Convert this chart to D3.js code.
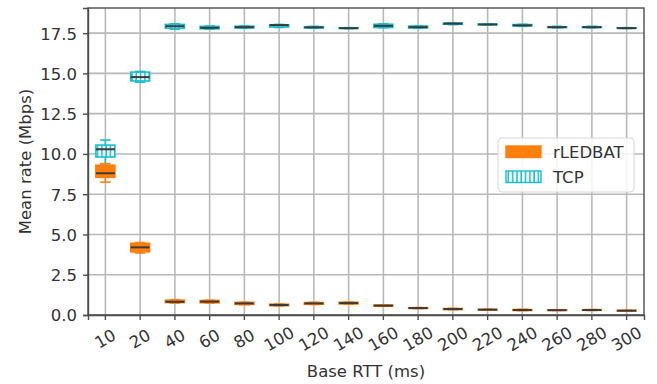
<!DOCTYPE html>
<html>
<head>
<meta charset="utf-8">
<script src="https://cdn.jsdelivr.net/npm/d3@7"></script>
<style>
  html, body { margin: 0; padding: 0; background: #fff; }
  svg text { font-family: "DejaVu Sans", sans-serif; fill: #333; }
</style>
</head>
<body>
<svg id="chart" width="657" height="384"></svg>
<script>
// Base RTT settings (ms)
const rttLabels = ["10", "20", "40", "60", "80", "100", "120", "140", "160", "180", "200", "220", "240", "260", "280", "300"];

// Box statistics per RTT: [lower whisker, Q1, median, Q3, upper whisker] in Mbps
const ledbatBoxes = [
  [8.25, 8.55, 8.80, 9.30, 9.40],
  [3.85, 3.92, 4.20, 4.45, 4.50],
  [0.74, 0.77, 0.82, 0.92, 0.95],
  [0.74, 0.76, 0.83, 0.90, 0.92],
  [0.64, 0.66, 0.72, 0.78, 0.80],
  [0.56, 0.58, 0.62, 0.67, 0.69],
  [0.65, 0.67, 0.72, 0.77, 0.79],
  [0.67, 0.69, 0.74, 0.79, 0.81],
  [0.54, 0.55, 0.58, 0.62, 0.63],
  [0.40, 0.41, 0.43, 0.45, 0.46],
  [0.33, 0.34, 0.37, 0.40, 0.41],
  [0.30, 0.31, 0.33, 0.35, 0.36],
  [0.27, 0.28, 0.31, 0.34, 0.35],
  [0.28, 0.29, 0.30, 0.32, 0.33],
  [0.28, 0.29, 0.31, 0.33, 0.34],
  [0.25, 0.26, 0.27, 0.28, 0.29]
];

const tcpBoxes = [
  [9.30, 9.81, 10.29, 10.55, 10.86],
  [14.45, 14.53, 14.77, 15.08, 15.12],
  [17.75, 17.80, 17.93, 18.04, 18.08],
  [17.75, 17.77, 17.83, 17.92, 17.94],
  [17.80, 17.82, 17.87, 17.93, 17.95],
  [17.85, 17.88, 18.00, 18.02, 18.04],
  [17.80, 17.82, 17.86, 17.90, 17.92],
  [17.78, 17.79, 17.81, 17.83, 17.84],
  [17.83, 17.85, 17.95, 18.05, 18.08],
  [17.80, 17.82, 17.87, 17.94, 17.96],
  [18.03, 18.05, 18.09, 18.13, 18.15],
  [18.00, 18.02, 18.04, 18.06, 18.07],
  [17.92, 17.95, 17.98, 18.03, 18.05],
  [17.83, 17.85, 17.87, 17.90, 17.92],
  [17.83, 17.85, 17.87, 17.90, 17.92],
  [17.79, 17.80, 17.81, 17.83, 17.84]
];

const yTicks = [0, 2.5, 5, 7.5, 10, 12.5, 15, 17.5];

const seriesNames = ["rLEDBAT", "TCP"];
const ORANGE = "#ff7f0e";
const CYAN = "#17becf";
const MEDIAN = "#3a3a3a";

const margin = { left: 88, right: 13, top: 8, bottom: 69 };
const W = 657, H = 384;
const innerW = W - margin.left - margin.right;
const innerH = H - margin.top - margin.bottom;

const svg = d3.select("#chart");

// hatch pattern for the TCP boxes
const defs = svg.append("defs");
const pat = defs.append("pattern")
  .attr("id", "vhatch")
  .attr("patternUnits", "userSpaceOnUse")
  .attr("width", 4.3).attr("height", 10);
pat.append("rect").attr("width", 4.3).attr("height", 10).attr("fill", "#fff");
pat.append("line").attr("x1", 1).attr("x2", 1).attr("y1", 0).attr("y2", 10)
  .attr("stroke", CYAN).attr("stroke-width", 1.6);

const g = svg.append("g").attr("transform", `translate(${margin.left},${margin.top})`);

const x = d3.scaleBand().domain(rttLabels).range([0, innerW]).padding(0);
const y = d3.scaleLinear().domain([0, 19.06]).range([innerH, 0]);
const cx = d => x(d) + x.bandwidth() / 2;

// grid
g.append("g").selectAll("line").data(rttLabels).join("line")
  .attr("x1", cx).attr("x2", cx).attr("y1", 0).attr("y2", innerH)
  .attr("stroke", "#b8b8b8").attr("stroke-width", 1.6);
g.append("g").selectAll("line").data(yTicks).join("line")
  .attr("x1", 0).attr("x2", innerW).attr("y1", d => y(d)).attr("y2", d => y(d))
  .attr("stroke", "#b8b8b8").attr("stroke-width", 1.6);

const boxW = 19, capW = 10.5;

function drawBoxes(data, color, hatched) {
  const grp = g.append("g");
  data.forEach((s, i) => {
    const c = cx(rttLabels[i]);
    const [lo, q1, med, q3, hi] = s;
    const b = grp.append("g");
    // whiskers and caps
    b.append("line").attr("x1", c).attr("x2", c).attr("y1", y(hi)).attr("y2", y(q3))
      .attr("stroke", color).attr("stroke-width", 1.6);
    b.append("line").attr("x1", c).attr("x2", c).attr("y1", y(q1)).attr("y2", y(lo))
      .attr("stroke", color).attr("stroke-width", 1.6);
    [lo, hi].forEach(v => b.append("line")
      .attr("x1", c - capW / 2).attr("x2", c + capW / 2).attr("y1", y(v)).attr("y2", y(v))
      .attr("stroke", color).attr("stroke-width", 1.6));
    // box
    b.append("rect")
      .attr("x", c - boxW / 2).attr("width", boxW)
      .attr("y", y(q3)).attr("height", Math.max(0.5, y(q1) - y(q3)))
      .attr("fill", hatched ? "url(#vhatch)" : color)
      .attr("stroke", color).attr("stroke-width", 1.6);
    // median
    b.append("line").attr("x1", c - boxW / 2).attr("x2", c + boxW / 2)
      .attr("y1", y(med)).attr("y2", y(med))
      .attr("stroke", MEDIAN).attr("stroke-width", 2);
  });
}

drawBoxes(tcpBoxes, CYAN, true);
drawBoxes(ledbatBoxes, ORANGE, false);

// frame
g.append("rect").attr("width", innerW).attr("height", innerH)
  .attr("fill", "none").attr("stroke", "#4d4d4d").attr("stroke-width", 1.4);

// axes
const yAxis = g.append("g").call(d3.axisLeft(y).tickValues(yTicks).tickFormat(d3.format(".1f")).tickSize(5).tickPadding(6));
const xAxis = g.append("g").attr("transform", `translate(0,${innerH})`)
  .call(d3.axisBottom(x).tickSize(5).tickPadding(6));
[yAxis, xAxis].forEach(a => {
  a.select(".domain").attr("stroke", "#4d4d4d").attr("stroke-width", 1.4);
  a.selectAll(".tick line").attr("stroke", "#4d4d4d").attr("stroke-width", 1.4);
  a.selectAll("text").style("font-size", "16.5px").attr("fill", "#333");
});
yAxis.selectAll("text").attr("dy", "0.36em");
xAxis.selectAll(".tick text")
  .attr("y", 0).attr("dy", null)
  .attr("text-anchor", "middle")
  .attr("dominant-baseline", "central")
  .attr("transform", "translate(0,24) rotate(-30)");

// axis titles
svg.append("text")
  .attr("x", margin.left + innerW / 2).attr("y", 377)
  .attr("text-anchor", "middle").style("font-size", "16.5px")
  .text("Base RTT (ms)");
svg.append("text")
  .attr("transform", `translate(31,${margin.top + innerH / 2}) rotate(-90)`)
  .attr("text-anchor", "middle").style("font-size", "16.5px")
  .text("Mean rate (Mbps)");

// legend
const lg = svg.append("g");
lg.append("rect").attr("x", 498).attr("y", 138).attr("width", 136).attr("height", 54)
  .attr("rx", 4).attr("fill", "#fff").attr("fill-opacity", 0.85)
  .attr("stroke", "#d6d6d6").attr("stroke-width", 1);
const legendRows = [
  { name: seriesNames[0], fill: ORANGE, stroke: ORANGE, y: 146 },
  { name: seriesNames[1], fill: "url(#vhatch)", stroke: CYAN, y: 171 }
];
legendRows.forEach(r => {
  lg.append("rect").attr("x", 506).attr("y", r.y).attr("width", 35).attr("height", 11.5)
    .attr("fill", r.fill).attr("stroke", r.stroke).attr("stroke-width", 1.4);
  lg.append("text").attr("x", 553).attr("y", r.y + 11.5)
    .style("font-size", "16.5px").text(r.name);
});
</script>
</body>
</html>
